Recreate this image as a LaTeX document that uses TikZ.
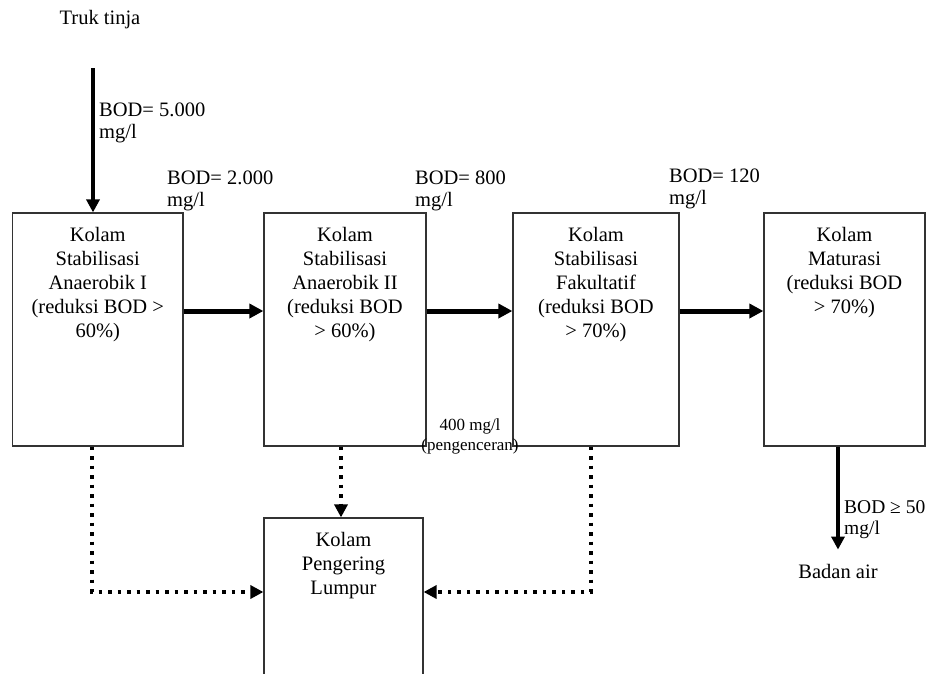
\documentclass[tikz,border=0pt]{standalone}
\usepackage{fontspec}
\setmainfont{Liberation Serif}
\usetikzlibrary{arrows.meta}
\begin{document}
\begin{tikzpicture}[x=1pt,y=-1pt,
  box/.style={draw=black!80, line width=1.2pt, inner sep=0pt},
  boxtext/.style={align=center, inner sep=0pt, font=\fontsize{20.5}{24}\selectfont},
  lbl/.style={align=left, inner sep=0pt, font=\fontsize{20.5}{22}\selectfont},
  smalllbl/.style={align=center, inner sep=0pt, font=\fontsize{17}{20}\selectfont},
  flow/.style={line width=5pt, -{Triangle[length=14pt,width=14pt]}},
  vflow/.style={line width=4.5pt, -{Triangle[length=13pt,width=13pt]}},
  sludge/.style={line width=4pt, dash pattern=on 3.5pt off 6pt, -{Triangle[length=13pt,width=13pt]}}
]
\useasboundingbox (0,0) rectangle (927,673);
\clip (0,0) rectangle (927,673);

% main boxes
\node[box, minimum width=170.5pt, minimum height=233pt] (b1) at (97.75,329.5) {};
\node[box, minimum width=162pt, minimum height=233pt] (b2) at (345,329.5) {};
\node[box, minimum width=166pt, minimum height=233pt] (b3) at (596,329.5) {};
\node[box, minimum width=161pt, minimum height=233pt] (b4) at (844.5,329.5) {};
\node[box, minimum width=159pt, minimum height=172pt] (b5) at (343.5,604) {};

% box texts
\node[boxtext, anchor=north] (t1) at ([yshift=-15pt]b1.north) {Kolam\\Stabilisasi\\Anaerobik I\\(reduksi BOD >\\60\%)};
\node[boxtext, anchor=north] (t2) at ([yshift=-15pt]b2.north) {Kolam\\Stabilisasi\\Anaerobik II\\(reduksi BOD\\> 60\%)};
\node[boxtext, anchor=north] (t3) at ([yshift=-15pt]b3.north) {Kolam\\Stabilisasi\\Fakultatif\\(reduksi BOD\\> 70\%)};
\node[boxtext, anchor=north] (t4) at ([yshift=-15pt]b4.north) {Kolam\\Maturasi\\(reduksi BOD\\> 70\%)};
\node[boxtext, anchor=north] (t5) at ([yshift=-15pt]b5.north) {Kolam\\Pengering\\Lumpur};

% labels
\node[lbl, anchor=base] (truk) at (100,24) {Truk tinja};
\node[lbl, anchor=north west] (l0) at (99,103) {BOD= 5.000\\mg/l};
\node[lbl, anchor=north west] (l1) at (167,171) {BOD= 2.000\\mg/l};
\node[lbl, anchor=north west] (l2) at (415,171) {BOD= 800\\mg/l};
\node[lbl, anchor=north west] (l3) at (669,169) {BOD= 120\\mg/l};
\node[lbl, anchor=north west, font=\fontsize{19.5}{21}\selectfont] (l4) at (844,500) {BOD ≥ 50\\mg/l};
\node[lbl, anchor=base] (badan) at (838,578) {Badan air};
\node[smalllbl, anchor=north] (dil) at (470,418.5) {400 mg/l\\(pengenceran)};

% inflow
\coordinate (start) at (93,68);
\draw[vflow] (start) -- (b1.north -| start);

% main flow
\draw[flow] ([yshift=18.5pt]b1.east) -- ([yshift=18.5pt]b2.west);
\draw[flow] ([yshift=18.5pt]b2.east) -- ([yshift=18.5pt]b3.west);
\draw[flow] ([yshift=18.5pt]b3.east) -- ([yshift=18.5pt]b4.west);

% outflow
\draw[vflow] (b4.south -| badan) -- ([yshift=14pt]badan.north);

% sludge lines
\coordinate (sl) at (0,592);
\draw[sludge] (b1.south -| 92,0) |- (b5.west |- sl);
\draw[sludge] (b2.south -| 341,0) -- (b5.north -| 341,0);
\draw[sludge] (b3.south -| 591,0) |- (b5.east |- sl);
\end{tikzpicture}
\end{document}
